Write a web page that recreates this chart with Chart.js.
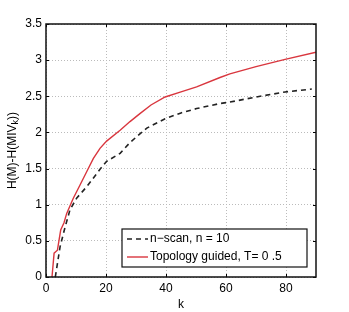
<!DOCTYPE html>
<html>
<head>
<meta charset="utf-8">
<script src="https://cdn.jsdelivr.net/npm/chart.js@4/dist/chart.umd.min.js"></script>
<style>
  html, body { margin: 0; padding: 0; background: #fff; }
  #wrap { width: 349px; height: 312px; }
</style>
</head>
<body>
<div id="wrap"><canvas id="myChart" width="349" height="312"></canvas></div>
<script>
// values
const kScan = [3.1, 4.7, 6.3, 8, 10.2, 13.6, 18, 20.2, 24.7, 28, 31.3, 33.6, 39.7, 45, 50.2, 58, 61.3, 70, 79.7, 88.6];
const vScan = [0, 0.42, 0.68, 0.93, 1.09, 1.25, 1.49, 1.6, 1.71, 1.86, 1.98, 2.06, 2.19, 2.27, 2.33, 2.40, 2.42, 2.49, 2.56, 2.60];
const kTopo = [2, 2.7, 3.8, 4.9, 6, 6.9, 9.1, 11.3, 13.6, 15.8, 18, 20.2, 24.7, 28, 31.3, 35, 39.7, 45, 50.2, 58, 61.3, 70, 79.7, 90];
const vTopo = [0, 0.33, 0.37, 0.65, 0.75, 0.88, 1.09, 1.27, 1.46, 1.64, 1.78, 1.88, 2.03, 2.15, 2.26, 2.38, 2.49, 2.56, 2.63, 2.76, 2.81, 2.91, 3.01, 3.11];
const xTicks = [0, 20, 40, 60, 80];
const yTicks = [0, 0.5, 1, 1.5, 2, 2.5, 3, 3.5];
const labels = ['n\u2212scan, n = 10', 'Topology guided, T= 0 .5'];

const toPts = (xs, ys) => xs.map((x, i) => ({x: x, y: ys[i]}));
const FONT = 'Liberation Sans, Arial, sans-serif';

const frame = {
  id: 'frame',
  afterDraw(chart) {
    const ctx = chart.ctx;
    const a = chart.chartArea;
    const sx = chart.scales.x, sy = chart.scales.y;
    ctx.save();
    // inner tick marks
    ctx.strokeStyle = '#000';
    ctx.lineWidth = 1;
    ctx.beginPath();
    xTicks.forEach(t => {
      const px = Math.round(sx.getPixelForValue(t)) + 0.5;
      ctx.moveTo(px, a.bottom); ctx.lineTo(px, a.bottom - 3);
      ctx.moveTo(px, a.top); ctx.lineTo(px, a.top + 3);
    });
    yTicks.forEach(t => {
      const py = Math.round(sy.getPixelForValue(t)) + 0.5;
      ctx.moveTo(a.left, py); ctx.lineTo(a.left + 3, py);
      ctx.moveTo(a.right, py); ctx.lineTo(a.right - 3, py);
    });
    ctx.stroke();
    // box
    ctx.lineWidth = 1.5;
    ctx.strokeStyle = '#111';
    ctx.strokeRect(a.left, a.top, a.right - a.left, a.bottom - a.top);

    // legend
    const lx = 122, ly = 229, lw = 185, lh = 38;
    ctx.fillStyle = '#fff';
    ctx.fillRect(lx, ly, lw, lh);
    ctx.lineWidth = 1.2;
    ctx.strokeRect(lx, ly, lw, lh);
    ctx.font = '12px ' + FONT;
    ctx.textBaseline = 'middle';
    ctx.textAlign = 'left';
    chart.data.datasets.forEach((ds, i) => {
      const yy = ly + 10 + i * 18;
      ctx.strokeStyle = ds.borderColor;
      ctx.lineWidth = ds.borderWidth;
      ctx.setLineDash(ds.borderDash || []);
      ctx.beginPath();
      ctx.moveTo(lx + 5, yy); ctx.lineTo(lx + 26, yy);
      ctx.stroke();
      ctx.setLineDash([]);
      ctx.fillStyle = '#000';
      ctx.fillText(ds.label, lx + 28, yy);
    });

    // y axis title with subscript
    ctx.translate(13, (a.top + a.bottom) / 2);
    ctx.rotate(-Math.PI / 2);
    ctx.fillStyle = '#000';
    ctx.textBaseline = 'middle';
    const p1 = 'H(M)-H(MIV', sub = 'k', p2 = '))';
    ctx.font = '12px ' + FONT;
    const w1 = ctx.measureText(p1).width, w3 = ctx.measureText(p2).width;
    ctx.font = '9px ' + FONT;
    const w2 = ctx.measureText(sub).width;
    let x0 = -(w1 + w2 + w3) / 2;
    ctx.font = '12px ' + FONT;
    ctx.fillText(p1, x0, 0);
    ctx.font = '9px ' + FONT;
    ctx.fillText(sub, x0 + w1, 3);
    ctx.font = '12px ' + FONT;
    ctx.fillText(p2, x0 + w1 + w2, 0);
    ctx.restore();
  }
};

const myc = document.getElementById('myChart').getContext('2d');
const myChart = new Chart(myc, {
  type: 'line',
  data: {
    datasets: [{
      label: labels[0],
      data: toPts(kScan, vScan),
      borderColor: '#222',
      borderWidth: 1.6,
      borderDash: [5, 4],
      pointRadius: 0,
      tension: 0,
      fill: false
    }, {
      label: labels[1],
      data: toPts(kTopo, vTopo),
      borderColor: '#d9363e',
      borderWidth: 1.4,
      pointRadius: 0,
      tension: 0,
      fill: false
    }]
  },
  options: {
    responsive: false,
    animation: false,
    events: [],
    layout: { padding: { top: 24, right: 33, left: 0, bottom: 0 } },
    plugins: { legend: { display: false }, tooltip: { enabled: false } },
    scales: {
      x: {
        type: 'linear',
        min: 0, max: 90,
        afterFit: s => { s.height = 35; },
        afterBuildTicks: s => { s.ticks = xTicks.map(v => ({value: v})); },
        ticks: { color: '#000', padding: 4, font: { size: 12, family: FONT }, maxRotation: 0,
                 callback: v => String(v) },
        grid: { color: '#bbb', lineWidth: 1, drawTicks: false },
        border: { display: false, dash: [1, 2] },
        title: { display: true, text: 'k', color: '#000', padding: 0, font: { size: 12, family: FONT } }
      },
      y: {
        type: 'linear',
        min: 0, max: 3.5,
        afterFit: s => { s.width = 46; },
        afterBuildTicks: s => { s.ticks = yTicks.map(v => ({value: v})); },
        ticks: { color: '#000', padding: 4, font: { size: 12, family: FONT },
                 callback: v => String(v) },
        grid: { color: '#bbb', lineWidth: 1, drawTicks: false },
        border: { display: false, dash: [1, 2] }
      }
    }
  },
  plugins: [frame]
});
</script>
</body>
</html>
